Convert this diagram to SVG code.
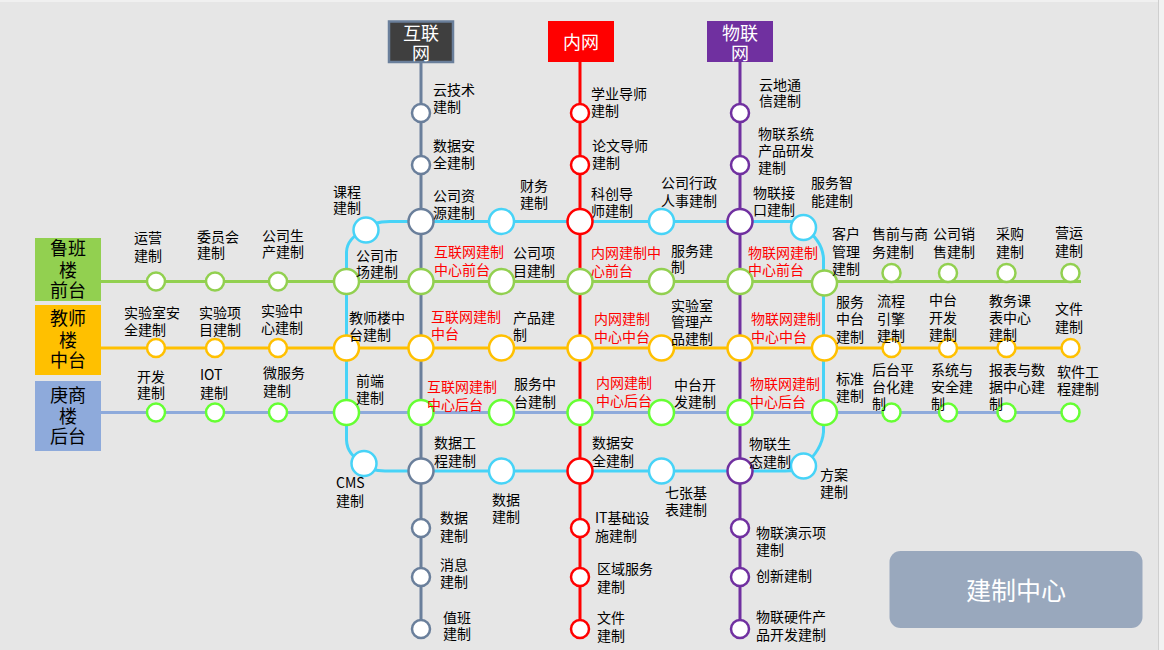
<svg xmlns="http://www.w3.org/2000/svg" width="1164" height="650" viewBox="0 0 1164 650">
<style>
.t{font-family:"Noto Sans CJK SC","Noto Sans",sans-serif;font-size:14px;fill:#000}
.r{fill:#ff0000}
.hd{font-family:"Noto Sans CJK SC","Noto Sans",sans-serif;font-size:18px;fill:#fff;text-anchor:middle}
.bx{font-family:"Noto Sans CJK SC","Noto Sans",sans-serif;font-size:18px;fill:#000;text-anchor:middle}
.ln{fill:none;stroke-width:3}
.s{fill:#fff;stroke-width:2.5}
.sl{stroke:#6a7f9b}.rd{stroke:#ff0000}.pu{stroke:#7030a0}.gr{stroke:#92d050}.or{stroke:#ffc000}.bl{stroke:#8eaadb}.bg{stroke:#66ff33}.cy{stroke:#47d3f7}
</style>
<rect x="0" y="0" width="1164" height="650" fill="#e6e6e6"/>
<rect x="0" y="0" width="1164" height="2" fill="#f0f0f0"/>
<rect x="1159" y="0" width="5" height="650" fill="#f2f2f2"/>
<line x1="1158.5" y1="0" x2="1158.5" y2="650" stroke="#cfcfcf" stroke-width="1"/>

<g id="connectors">
<path class="ln cy" d="M365 230 Q372 221.5 390 221.5 H790 Q797 221.5 803.5 227.5 Q822 240 823.5 258 V432 Q822 450 803.5 466 Q797 471 785 471 H385 Q370 471 364 463.5 Q347 455 346.5 440 V252 Q347 238 365 230 Z"/>
<path class="ln sl" d="M421 62 V629"/>
<path class="ln rd" d="M580 62 V629"/>
<path class="ln pu" d="M740 62 V629"/>
<path class="ln gr" d="M100 281.5 H1081"/>
<path class="ln or" d="M100 348 H1070"/>
<path class="ln bl" d="M100 412.5 H1070"/>
</g>

<g id="h-internet"><rect x="389" y="21.5" width="64" height="40.5" fill="#3f3f3f" stroke="#6a7f9b" stroke-width="2.5"/><text class="hd"><tspan x="421" y="39.5">互联</tspan><tspan x="421" y="59.5">网</tspan></text></g>
<g id="h-intranet"><rect x="548" y="21" width="66" height="41" fill="#ff0000"/><text class="hd" x="581" y="48.5">内网</text></g>
<g id="h-iot"><rect x="707" y="21" width="66" height="41" fill="#7030a0"/><text class="hd"><tspan x="740" y="39.5">物联</tspan><tspan x="740" y="59.5">网</tspan></text></g>

<g id="l-front"><rect x="35" y="238" width="66" height="63" fill="#92d050"/><text class="bx"><tspan x="68" y="255">鲁班</tspan><tspan x="68" y="277">楼</tspan><tspan x="68" y="297">前台</tspan></text></g>
<g id="l-middle"><rect x="35" y="305" width="66" height="70" fill="#ffc000"/><text class="bx"><tspan x="68" y="325">教师</tspan><tspan x="68" y="347">楼</tspan><tspan x="68" y="366.5">中台</tspan></text></g>
<g id="l-back"><rect x="35" y="381" width="66" height="70" fill="#8eaadb"/><text class="bx"><tspan x="68" y="402">庚商</tspan><tspan x="68" y="423">楼</tspan><tspan x="68" y="443">后台</tspan></text></g>

<!-- cyan loop stations -->
<g id="n-c1"><circle class="s cy" cx="366" cy="230" r="12.5"/><text class="t"><tspan x="333" y="197">课程</tspan><tspan x="333" y="213">建制</tspan></text></g>
<g id="n-c2"><circle class="s cy" cx="501.5" cy="221.5" r="12.5"/><text class="t"><tspan x="520" y="191">财务</tspan><tspan x="520" y="208">建制</tspan></text></g>
<g id="n-c3"><circle class="s cy" cx="661.5" cy="221.5" r="12.5"/><text class="t"><tspan x="661" y="188">公司行政</tspan><tspan x="661" y="206">人事建制</tspan></text></g>
<g id="n-c4"><circle class="s cy" cx="803.5" cy="227.5" r="12.5"/><text class="t"><tspan x="811" y="188">服务智</tspan><tspan x="811" y="206">能建制</tspan></text></g>
<g id="n-c5"><circle class="s cy" cx="803.5" cy="466" r="12.5"/><text class="t"><tspan x="820" y="480">方案</tspan><tspan x="820" y="497">建制</tspan></text></g>
<g id="n-c6"><circle class="s cy" cx="661.5" cy="471" r="12.5"/><text class="t"><tspan x="665" y="498">七张基</tspan><tspan x="665" y="515">表建制</tspan></text></g>
<g id="n-c7"><circle class="s cy" cx="501.5" cy="471" r="12.5"/><text class="t"><tspan x="492" y="505">数据</tspan><tspan x="492" y="522">建制</tspan></text></g>
<g id="n-c8"><circle class="s cy" cx="364" cy="463.5" r="12.5"/><text class="t"><tspan x="336" y="488">CMS</tspan><tspan x="336" y="506">建制</tspan></text></g>

<!-- green row -->
<g id="n-g1"><circle class="s gr" cx="156" cy="281.5" r="9"/><text class="t"><tspan x="134" y="243">运营</tspan><tspan x="134" y="261">建制</tspan></text></g>
<g id="n-g2"><circle class="s gr" cx="215" cy="281.5" r="9"/><text class="t"><tspan x="197" y="242">委员会</tspan><tspan x="197" y="258">建制</tspan></text></g>
<g id="n-g3"><circle class="s gr" cx="278" cy="281.5" r="9"/><text class="t"><tspan x="262" y="241">公司生</tspan><tspan x="262" y="257">产建制</tspan></text></g>
<g id="n-g4"><circle class="s gr" cx="346.5" cy="281.5" r="12.5"/><text class="t"><tspan x="356" y="261">公司市</tspan><tspan x="356" y="277">场建制</tspan></text></g>
<g id="n-g5"><circle class="s gr" cx="501.5" cy="281.5" r="12.5"/><text class="t"><tspan x="513" y="258">公司项</tspan><tspan x="513" y="276">目建制</tspan></text></g>
<g id="n-g6"><circle class="s gr" cx="661.5" cy="281.5" r="12.5"/><text class="t"><tspan x="671" y="256">服务建</tspan><tspan x="671" y="272">制</tspan></text></g>
<g id="n-g7"><circle class="s gr" cx="824.5" cy="283" r="12.5"/><text class="t"><tspan x="832" y="239">客户</tspan><tspan x="832" y="257">管理</tspan><tspan x="832" y="274">建制</tspan></text></g>
<g id="n-g8"><circle class="s gr" cx="891.5" cy="273" r="9"/><text class="t"><tspan x="872" y="239">售前与商</tspan><tspan x="872" y="257">务建制</tspan></text></g>
<g id="n-g9"><circle class="s gr" cx="948" cy="273" r="9"/><text class="t"><tspan x="933" y="239">公司销</tspan><tspan x="933" y="257">售建制</tspan></text></g>
<g id="n-g10"><circle class="s gr" cx="1006.5" cy="273" r="9"/><text class="t"><tspan x="996" y="239">采购</tspan><tspan x="996" y="257">建制</tspan></text></g>
<g id="n-g11"><circle class="s gr" cx="1070.5" cy="273" r="9"/><text class="t"><tspan x="1055" y="238">营运</tspan><tspan x="1055" y="256">建制</tspan></text></g>

<!-- orange row -->
<g id="n-o1"><circle class="s or" cx="156" cy="348" r="9"/><text class="t"><tspan x="124" y="318">实验室安</tspan><tspan x="124" y="335">全建制</tspan></text></g>
<g id="n-o2"><circle class="s or" cx="215" cy="348" r="9"/><text class="t"><tspan x="199" y="318">实验项</tspan><tspan x="199" y="335">目建制</tspan></text></g>
<g id="n-o3"><circle class="s or" cx="278" cy="348" r="9"/><text class="t"><tspan x="261" y="316">实验中</tspan><tspan x="261" y="333">心建制</tspan></text></g>
<g id="n-o4"><circle class="s or" cx="346.5" cy="348" r="12.5"/><text class="t"><tspan x="349" y="323">教师楼中</tspan><tspan x="349" y="340">台建制</tspan></text></g>
<g id="n-o5"><circle class="s or" cx="501.5" cy="348" r="12.5"/><text class="t"><tspan x="513" y="323">产品建</tspan><tspan x="513" y="340">制</tspan></text></g>
<g id="n-o6"><circle class="s or" cx="661.5" cy="348" r="12.5"/><text class="t"><tspan x="671" y="311">实验室</tspan><tspan x="671" y="327">管理产</tspan><tspan x="671" y="344">品建制</tspan></text></g>
<g id="n-o7"><circle class="s or" cx="824.5" cy="348" r="12.5"/><text class="t"><tspan x="836" y="307">服务</tspan><tspan x="836" y="324">中台</tspan><tspan x="836" y="342">建制</tspan></text></g>
<g id="n-o8"><circle class="s or" cx="891.5" cy="348" r="9"/><text class="t"><tspan x="877" y="306">流程</tspan><tspan x="877" y="324">引擎</tspan><tspan x="877" y="341">建制</tspan></text></g>
<g id="n-o9"><circle class="s or" cx="948" cy="348" r="9"/><text class="t"><tspan x="929" y="305">中台</tspan><tspan x="929" y="323">开发</tspan><tspan x="929" y="340">建制</tspan></text></g>
<g id="n-o10"><circle class="s or" cx="1006.5" cy="348" r="9"/><text class="t"><tspan x="989" y="306">教务课</tspan><tspan x="989" y="323">表中心</tspan><tspan x="989" y="340">建制</tspan></text></g>
<g id="n-o11"><circle class="s or" cx="1070.5" cy="348" r="9"/><text class="t"><tspan x="1055" y="314">文件</tspan><tspan x="1055" y="332">建制</tspan></text></g>

<!-- back row -->
<g id="n-b1"><circle class="s bg" cx="156" cy="412.5" r="9"/><text class="t"><tspan x="137" y="382">开发</tspan><tspan x="137" y="398">建制</tspan></text></g>
<g id="n-b2"><circle class="s bg" cx="215" cy="412.5" r="9"/><text class="t"><tspan x="200" y="380">IOT</tspan><tspan x="200" y="398">建制</tspan></text></g>
<g id="n-b3"><circle class="s bg" cx="278" cy="412.5" r="9"/><text class="t"><tspan x="263" y="378">微服务</tspan><tspan x="263" y="396">建制</tspan></text></g>
<g id="n-b4"><circle class="s bg" cx="346.5" cy="412.5" r="12.5"/><text class="t"><tspan x="356" y="386">前端</tspan><tspan x="356" y="403">建制</tspan></text></g>
<g id="n-b5"><circle class="s bg" cx="501.5" cy="412.5" r="12.5"/><text class="t"><tspan x="514" y="389">服务中</tspan><tspan x="514" y="407">台建制</tspan></text></g>
<g id="n-b6"><circle class="s bg" cx="661.5" cy="412.5" r="12.5"/><text class="t"><tspan x="674" y="390">中台开</tspan><tspan x="674" y="407">发建制</tspan></text></g>
<g id="n-b7"><circle class="s bg" cx="824.5" cy="412.5" r="12.5"/><text class="t"><tspan x="836" y="384">标准</tspan><tspan x="836" y="401">建制</tspan></text></g>
<g id="n-b8"><circle class="s bg" cx="891.5" cy="412.5" r="9"/><text class="t"><tspan x="872" y="375">后台平</tspan><tspan x="872" y="392">台化建</tspan><tspan x="872" y="409">制</tspan></text></g>
<g id="n-b9"><circle class="s bg" cx="948" cy="412.5" r="9"/><text class="t"><tspan x="931" y="375">系统与</tspan><tspan x="931" y="392">安全建</tspan><tspan x="931" y="409">制</tspan></text></g>
<g id="n-b10"><circle class="s bg" cx="1006.5" cy="412.5" r="9"/><text class="t"><tspan x="989" y="375">报表与数</tspan><tspan x="989" y="392">据中心建</tspan><tspan x="989" y="409">制</tspan></text></g>
<g id="n-b11"><circle class="s bg" cx="1070.5" cy="412.5" r="9"/><text class="t"><tspan x="1057" y="377">软件工</tspan><tspan x="1057" y="394">程建制</tspan></text></g>

<!-- internet line -->
<g id="n-i1"><circle class="s sl" cx="421" cy="113" r="9"/><text class="t"><tspan x="433" y="95">云技术</tspan><tspan x="433" y="112">建制</tspan></text></g>
<g id="n-i2"><circle class="s sl" cx="421" cy="165" r="9"/><text class="t"><tspan x="433" y="151">数据安</tspan><tspan x="433" y="168">全建制</tspan></text></g>
<g id="n-i3"><circle class="s sl" cx="421" cy="221.5" r="12.5"/><text class="t"><tspan x="433" y="201">公司资</tspan><tspan x="433" y="218">源建制</tspan></text></g>
<g id="n-i4"><circle class="s gr" cx="421" cy="281.5" r="12.5"/><text class="t r"><tspan x="434" y="257">互联网建制</tspan><tspan x="434" y="275">中心前台</tspan></text></g>
<g id="n-i5"><circle class="s or" cx="421" cy="348" r="12.5"/><text class="t r"><tspan x="431" y="322">互联网建制</tspan><tspan x="431" y="339">中台</tspan></text></g>
<g id="n-i6"><circle class="s bg" cx="421" cy="412.5" r="12.5"/><text class="t r"><tspan x="427" y="392">互联网建制</tspan><tspan x="427" y="410">中心后台</tspan></text></g>
<g id="n-i7"><circle class="s sl" cx="421" cy="471" r="12.5"/><text class="t"><tspan x="434" y="448">数据工</tspan><tspan x="434" y="466">程建制</tspan></text></g>
<g id="n-i8"><circle class="s sl" cx="421" cy="528" r="9"/><text class="t"><tspan x="440" y="523">数据</tspan><tspan x="440" y="541">建制</tspan></text></g>
<g id="n-i9"><circle class="s sl" cx="421" cy="577" r="9"/><text class="t"><tspan x="440" y="570">消息</tspan><tspan x="440" y="587">建制</tspan></text></g>
<g id="n-i10"><circle class="s sl" cx="421" cy="629" r="9"/><text class="t"><tspan x="443" y="623">值班</tspan><tspan x="443" y="639">建制</tspan></text></g>

<!-- intranet line -->
<g id="n-n1"><circle class="s rd" cx="580" cy="113" r="9"/><text class="t"><tspan x="591" y="99">学业导师</tspan><tspan x="591" y="116">建制</tspan></text></g>
<g id="n-n2"><circle class="s rd" cx="580" cy="165" r="9"/><text class="t"><tspan x="592" y="151">论文导师</tspan><tspan x="592" y="168">建制</tspan></text></g>
<g id="n-n3"><circle class="s rd" cx="580" cy="221.5" r="12.5"/><text class="t"><tspan x="591" y="199">科创导</tspan><tspan x="591" y="216">师建制</tspan></text></g>
<g id="n-n4"><circle class="s gr" cx="580" cy="281.5" r="12.5"/><text class="t r"><tspan x="591" y="258">内网建制中</tspan><tspan x="591" y="276">心前台</tspan></text></g>
<g id="n-n5"><circle class="s or" cx="580" cy="348" r="12.5"/><text class="t r"><tspan x="594" y="324">内网建制</tspan><tspan x="594" y="342">中心中台</tspan></text></g>
<g id="n-n6"><circle class="s bg" cx="580" cy="412.5" r="12.5"/><text class="t r"><tspan x="596" y="388">内网建制</tspan><tspan x="596" y="406">中心后台</tspan></text></g>
<g id="n-n7"><circle class="s rd" cx="580" cy="471" r="12.5"/><text class="t"><tspan x="592" y="448">数据安</tspan><tspan x="592" y="466">全建制</tspan></text></g>
<g id="n-n8"><circle class="s rd" cx="580" cy="528" r="9"/><text class="t"><tspan x="595" y="523">IT基础设</tspan><tspan x="595" y="541">施建制</tspan></text></g>
<g id="n-n9"><circle class="s rd" cx="580" cy="577" r="9"/><text class="t"><tspan x="597" y="574">区域服务</tspan><tspan x="597" y="592">建制</tspan></text></g>
<g id="n-n10"><circle class="s rd" cx="580" cy="629" r="9"/><text class="t"><tspan x="597" y="623">文件</tspan><tspan x="597" y="641">建制</tspan></text></g>

<!-- iot line -->
<g id="n-w1"><circle class="s pu" cx="740" cy="113" r="9"/><text class="t"><tspan x="759" y="90">云地通</tspan><tspan x="759" y="106">信建制</tspan></text></g>
<g id="n-w2"><circle class="s pu" cx="740" cy="165" r="9"/><text class="t"><tspan x="758" y="138.5">物联系统</tspan><tspan x="758" y="156">产品研发</tspan><tspan x="758" y="173">建制</tspan></text></g>
<g id="n-w3"><circle class="s pu" cx="740" cy="221.5" r="12.5"/><text class="t"><tspan x="753" y="198">物联接</tspan><tspan x="753" y="215">口建制</tspan></text></g>
<g id="n-w4"><circle class="s gr" cx="740" cy="281.5" r="12.5"/><text class="t r"><tspan x="748" y="258">物联网建制</tspan><tspan x="748" y="275">中心前台</tspan></text></g>
<g id="n-w5"><circle class="s or" cx="740" cy="348" r="12.5"/><text class="t r"><tspan x="751" y="324">物联网建制</tspan><tspan x="751" y="342">中心中台</tspan></text></g>
<g id="n-w6"><circle class="s bg" cx="740" cy="412.5" r="12.5"/><text class="t r"><tspan x="750" y="389">物联网建制</tspan><tspan x="750" y="407">中心后台</tspan></text></g>
<g id="n-w7"><circle class="s pu" cx="740" cy="471" r="12.5"/><text class="t"><tspan x="749" y="449">物联生</tspan><tspan x="749" y="467">态建制</tspan></text></g>
<g id="n-w8"><circle class="s pu" cx="740" cy="528" r="9"/><text class="t"><tspan x="756" y="538">物联演示项</tspan><tspan x="756" y="555">建制</tspan></text></g>
<g id="n-w9"><circle class="s pu" cx="740" cy="577" r="9"/><text class="t" x="756" y="581">创新建制</text></g>
<g id="n-w10"><circle class="s pu" cx="740" cy="629" r="9"/><text class="t"><tspan x="756" y="622">物联硬件产</tspan><tspan x="756" y="640">品开发建制</tspan></text></g>

<g id="center-badge"><rect x="889.5" y="551" width="253" height="77" rx="11" fill="#99a8bd"/><text x="1016" y="599.5" text-anchor="middle" font-family="Noto Sans CJK SC, Noto Sans, sans-serif" font-size="25" fill="#fff">建制中心</text></g>
</svg>
